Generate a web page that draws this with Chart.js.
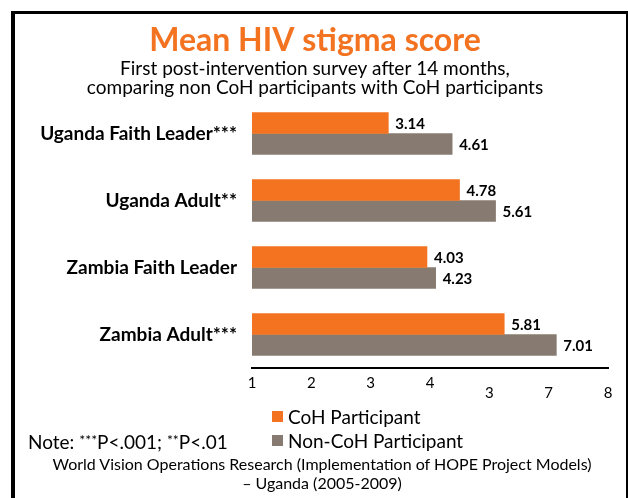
<!DOCTYPE html>
<html>
<head>
<meta charset="utf-8">
<script src="https://cdn.jsdelivr.net/npm/chart.js@4.4.1/dist/chart.umd.min.js"></script>
<style>
  html, body { margin: 0; padding: 0; background: #fff; }
  body { width: 628px; height: 498px; position: relative; overflow: hidden; font-family: Lato, "Open Sans", sans-serif; color: #000; }
  #frame { position: absolute; left: 11px; top: 11px; right: 0; height: 600px; box-sizing: border-box;
           border-left: 4px solid #000; border-top: 3px solid #000; border-right: 2px solid #000; }
  #chart { position: absolute; left: 0; top: 0; }
  #legend { position: absolute; left: 272px; top: 404px; font-size: 19px; }
  .item { display: flex; align-items: center; height: 24px; white-space: nowrap; }
  .swatch { width: 11px; height: 11px; margin-right: 5px; }
  #note { position: absolute; left: 28px; top: 428px; font-size: 19px; line-height: 24px; white-space: nowrap; }
  .star { font-size: 14px; vertical-align: 4px; }
  #source { position: absolute; left: 0; width: 644px; top: 454px; text-align: center; font-size: 16px; line-height: 19px; }
</style>
</head>
<body>
<div id="frame"></div>
<canvas id="chart" width="628" height="410"></canvas>
<div id="legend"></div>
<div id="note">Note: <span class="star">***</span>P&lt;.001; <span class="star">**</span>P&lt;.01</div>
<div id="source">World Vision Operations Research (Implementation of HOPE Project Models)<br>– Uganda (2005-2009)</div>
<script>
const categories = ['Uganda Faith Leader***', 'Uganda Adult**', 'Zambia Faith Leader', 'Zambia Adult***'];
const cohScores = [3.14, 4.78, 4.03, 5.81];
const nonCohScores = [4.61, 5.61, 4.23, 7.01];
const seriesNames = ['CoH Participant', 'Non-CoH Participant'];
const tickLabels = ['1', '2', '3', '4', '3', '7', '8'];
const titleText = 'Mean HIV stigma score';
const subtitleLines = [
  'First post-intervention survey after 14 months,',
  'comparing non CoH participants with CoH participants'
];

const ORANGE = '#F37321';
const GREY = '#877B71';
const FONT = 'Lato, "Open Sans", sans-serif';

// value printed just past the end of every bar
const valueLabels = {
  id: 'valueLabels',
  afterDatasetsDraw(chart) {
    const ctx = chart.ctx;
    ctx.save();
    ctx.font = 'bold 15px ' + FONT;
    ctx.fillStyle = '#000';
    ctx.textAlign = 'left';
    ctx.textBaseline = 'middle';
    chart.data.datasets.forEach((ds, i) => {
      chart.getDatasetMeta(i).data.forEach((bar, j) => {
        ctx.fillText(ds.data[j].toFixed(2), bar.x + 7, bar.y + 1);
      });
    });
    ctx.restore();
  }
};

const chart = new Chart(document.getElementById('chart'), {
  type: 'bar',
  data: {
    labels: categories,
    datasets: [
      { label: seriesNames[0], data: cohScores, backgroundColor: ORANGE, xAxisID: 'x' },
      { label: seriesNames[1], data: nonCohScores, backgroundColor: GREY, xAxisID: 'x' },
    ],
  },
  options: {
    indexAxis: 'y',
    responsive: false,
    animation: false,
    layout: { padding: { left: 22, right: 20, top: 0, bottom: 10 } },
    datasets: { bar: { barThickness: 21 } },
    plugins: {
      legend: { display: false },
      tooltip: { enabled: false },
      title: {
        display: true,
        text: titleText,
        color: ORANGE,
        font: { family: FONT, size: 32, weight: 'bold', lineHeight: '36px' },
        padding: { top: 23, bottom: 0 },
      },
      subtitle: {
        display: true,
        text: subtitleLines,
        color: '#000',
        font: { family: FONT, size: 19, lineHeight: '19px' },
        padding: { top: 0, bottom: 3 },
      },
    },
    scales: {
      x: { type: 'linear', display: false, min: 0, max: 8.2 },
      xTicks: {
        type: 'category',
        labels: tickLabels,
        position: 'bottom',
        offset: false,
        grid: { display: true, drawOnChartArea: false, drawTicks: false },
        border: { display: true, color: '#000', width: 2 },
        ticks: {
          color: '#000',
          autoSkip: false,
          maxRotation: 0,
          padding: 10,
          font: { family: FONT, size: 15, lineHeight: '10px' },
          // the last three labels sit a little lower in the original
          callback: (v, i) => (i >= 4 ? ['', tickLabels[i]] : tickLabels[i]),
        },
        afterFit: (s) => { s.height = 32; },
      },
      y: {
        type: 'category',
        grid: { display: false },
        border: { display: false },
        ticks: { color: '#000', padding: 7, font: { family: FONT, size: 19, weight: 'bold' } },
        afterFit: (s) => { s.width = 230; },
      },
    },
  },
  plugins: [valueLabels],
});

const legend = document.getElementById('legend');
chart.data.datasets.forEach((ds) => {
  const item = document.createElement('div');
  item.className = 'item';
  const sw = document.createElement('span');
  sw.className = 'swatch';
  sw.style.background = ds.backgroundColor;
  item.appendChild(sw);
  item.appendChild(document.createTextNode(ds.label));
  legend.appendChild(item);
});
</script>
</body>
</html>
